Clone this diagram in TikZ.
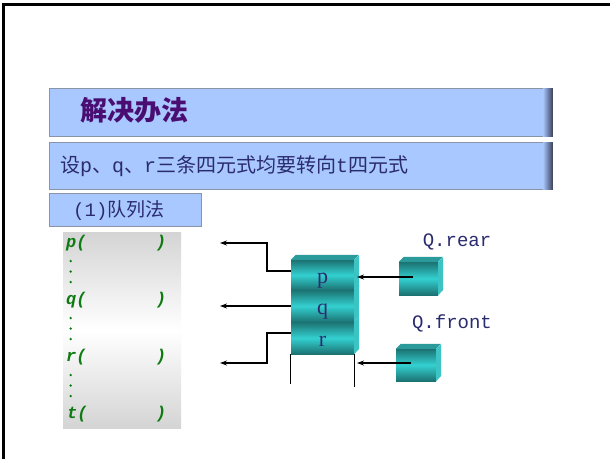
\documentclass[tikz,border=0pt]{standalone}
\usepackage{fontspec}
\setmainfont{Liberation Serif}
\newfontfamily\cjk{Noto Sans CJK SC}
\newfontfamily\mono{Liberation Mono}
\usetikzlibrary{arrows.meta}
\definecolor{barblue}{HTML}{A8C8FF}
\definecolor{bardark}{HTML}{3A4058}
\definecolor{barborder}{HTML}{8A94A8}
\definecolor{titlepurple}{HTML}{4A0E72}
\definecolor{navytext}{HTML}{2B2B70}
\definecolor{greentext}{HTML}{0E7A12}
\definecolor{tealdark}{HTML}{1C7272}
\definecolor{tealbright}{HTML}{33D0D0}
\definecolor{tealtop}{HTML}{2A9A9A}
\definecolor{tealside}{HTML}{3CC4C4}
\definecolor{panelgray}{HTML}{D4D4D4}
\tikzset{
  bar/.style={draw=barborder, fill=barblue, line width=0.8pt, inner sep=0pt, anchor=north west},
  cube/.style={rectangle, inner sep=0pt, top color=tealdark, bottom color=tealdark, middle color=tealbright,
     text=navytext, font=\fontsize{22}{22}\selectfont, text height=16pt, text depth=0pt},
  conn/.style={line width=1.5pt, -{Stealth[length=7pt,width=5pt]}},
  greenlbl/.style={text=greentext, font=\mono\bfseries\itshape\fontsize{17}{17}\selectfont, inner sep=0pt},
  qlbl/.style={text=navytext, font=\mono\fontsize{19}{19}\selectfont, inner sep=0pt},
}
\begin{document}
\begin{tikzpicture}[x=1pt,y=-1pt]
\useasboundingbox (0,0) rectangle (610,459);
\fill[white] (0,0) rectangle (610,459);
\draw[line width=3pt] (3.5,459) -- (3.5,4.7) -- (610,4.7);

% title bar
\node[bar, minimum width=503pt, minimum height=48pt] (titlebar) at (49,88) {};
\shade[left color=barblue, right color=bardark] ([xshift=-10pt,yshift=-0.4pt]titlebar.north east) rectangle ([yshift=0.4pt]titlebar.south east);
\node[anchor=west, inner sep=0pt, text=titlepurple, font=\cjk\bfseries\fontsize{27}{27}\selectfont] (titletext) at (80,110) {解决办法};

% second bar
\node[bar, minimum width=503pt, minimum height=47pt] (subbar) at (49,142) {};
\shade[left color=barblue, right color=bardark] ([xshift=-10pt,yshift=-0.4pt]subbar.north east) rectangle ([yshift=0.4pt]subbar.south east);
\node[anchor=west, inner sep=0pt, text=navytext, font=\cjk\fontsize{20}{20}\selectfont] (subtext) at (60,166)
  {设{\mono p}、{\mono q}、{\mono r}三条四元式均要转向{\mono t}四元式};

% third box
\node[bar, minimum width=152pt, minimum height=33pt] (methbox) at (49,193) {};
\node[anchor=west, inner sep=0pt, text=navytext, font=\cjk\fontsize{19}{19}\selectfont] (methtext) at (73,210)
  {{\mono (1)}队列法};

% gray panel
\node[rectangle, inner sep=0pt, minimum width=118pt, minimum height=196pt, anchor=north west,
  top color=panelgray, bottom color=panelgray, middle color=white] (panel) at (63,232) {};
\node[greenlbl, anchor=west] (pl) at (66,243) {p(};
\node[greenlbl] (pr) at (161,243) {)};
\node[greenlbl, anchor=west] (ql) at (66,300) {q(};
\node[greenlbl] (qr) at (161,300) {)};
\node[greenlbl, anchor=west] (rl) at (66,357) {r(};
\node[greenlbl] (rr) at (161,357) {)};
\node[greenlbl, anchor=west] (tl) at (67,414) {t(};
\node[greenlbl] (tr) at (161,414) {)};
\foreach \yy in {261,271.5,282,318,328.5,339,375,385.5,396}
  \fill[greentext] (70.7,\yy) circle (1.3pt);

% stack of cubes
\node[cube, minimum width=63pt, minimum height=30pt] (p) at (322.5,275) {p};
\node[cube, minimum width=63pt, minimum height=32pt] (q) at (322.5,306) {q};
\node[cube, minimum width=63pt, minimum height=32pt] (r) at (322.5,338) {r};
\fill[tealtop] (p.north west) -- ++(5,-5) -- ++(63,0) -- (p.north east) -- cycle;
\foreach \b in {p,q,r}
  \fill[tealside] (\b.north east) -- ++(5,-5) -- ++(0,32) -- (\b.south east) -- cycle;
\draw[line width=0.8pt] (r.south west) -- ++(0,30);
\draw[line width=0.8pt] (r.south east) -- ++(0,33);

% pointer cubes
\node[cube, minimum width=39pt, minimum height=33pt] (rear) at (418.5,278.5) {};
\fill[tealtop] (rear.north west) -- ++(5,-5) -- ++(39,0) -- (rear.north east) -- cycle;
\fill[tealside] (rear.north east) -- ++(5,-5) -- ++(0,33) -- (rear.south east) -- cycle;
\node[cube, minimum width=40pt, minimum height=32pt] (front) at (416,365) {};
\fill[tealtop] (front.north west) -- ++(5,-5) -- ++(40,0) -- (front.north east) -- cycle;
\fill[tealside] (front.north east) -- ++(5,-5) -- ++(0,32) -- (front.south east) -- cycle;
\node[qlbl] (rearlbl) at (457,242) {Q.rear};
\node[qlbl] (frontlbl) at (452,323) {Q.front};

% connectors
\coordinate (a1) at (220,243);
\coordinate (a2) at (220,306);
\coordinate (a3) at (220,363);
\coordinate (b1) at (357,277);
\coordinate (b2) at (357,363);
\draw[conn] ([yshift=4pt]p.west) -- ++(-24,0) |- (a1);
\draw[conn] (q.west) -- (a2);
\draw[conn] ([yshift=5pt]r.west) -- ++(-24,0) |- (a3);
\draw[conn] ([xshift=-5.5pt,yshift=1.5pt]rear.center) -- (b1);
\draw[conn] ([xshift=-5pt,yshift=2pt]front.center) -- (b2);
\end{tikzpicture}
\end{document}
